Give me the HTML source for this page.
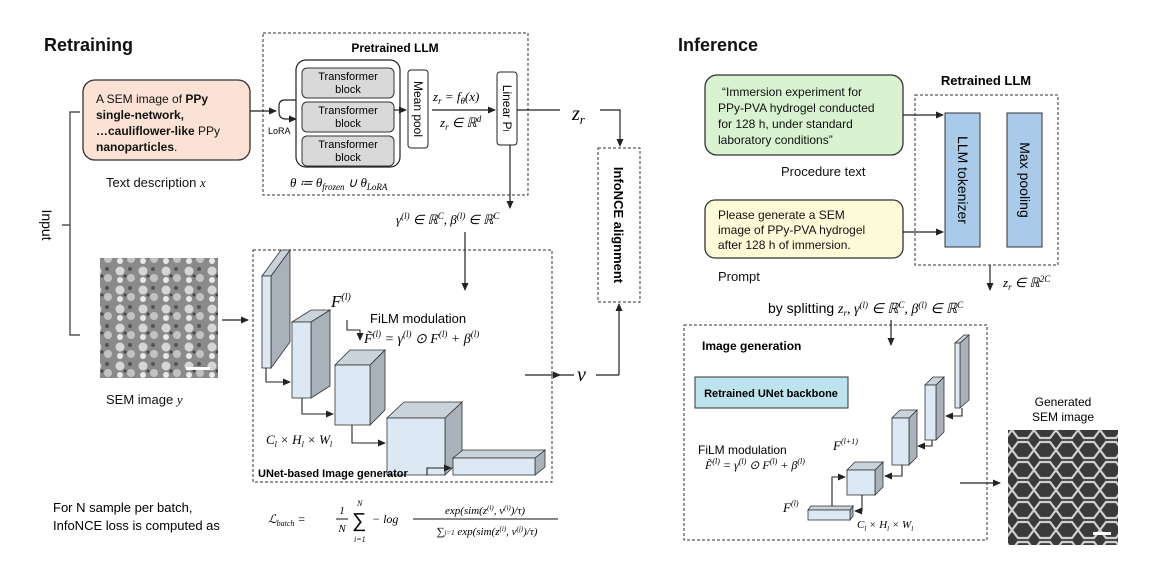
<!DOCTYPE html>
<html><head><meta charset="utf-8"><style>
body{margin:0;background:#fff}
svg{display:block;font-family:"Liberation Sans",sans-serif}
.m{font-family:"Liberation Serif",serif;font-style:italic}
</style></head><body>
<svg width="1152" height="576" viewBox="0 0 1152 576" xmlns="http://www.w3.org/2000/svg">
<defs>
<marker id="a" markerWidth="8" markerHeight="8" refX="7" refY="4" orient="auto" markerUnits="userSpaceOnUse"><path d="M0,0.5 L8,4 L0,7.5z" fill="#222"/></marker>
<pattern id="sem" width="23" height="19" patternUnits="userSpaceOnUse"><rect width="23" height="19" fill="#8a8a8a"/><circle cx="5" cy="5" r="4.5" fill="#d6d6d6"/><circle cx="16" cy="12" r="4" fill="#c2c2c2"/><circle cx="15" cy="3" r="2" fill="#555"/><circle cx="5" cy="14" r="3" fill="#e8e8e8"/><circle cx="10" cy="10" r="1.5" fill="#444"/></pattern>
<pattern id="net" width="22" height="20" patternUnits="userSpaceOnUse"><rect width="22" height="20" fill="#3a3a3a"/><path d="M0,10 L6,2 L16,2 L22,10 L16,18 L6,18z" fill="none" stroke="#cfcfcf" stroke-width="2.2"/></pattern>
</defs>
<g fill="#111">
<text x="44" y="51" font-size="18" font-weight="bold">Retraining</text>
<text x="678" y="51" font-size="18" font-weight="bold">Inference</text>
</g>
<rect x="83" y="80" width="167" height="80" rx="12" fill="#fbe2d4" stroke="#333" stroke-width="1.3"/>
<g font-size="12" fill="#111">
<text x="96" y="103">A SEM image of <tspan font-weight="bold">PPy</tspan></text>
<text x="96" y="119" font-weight="bold">single-network,</text>
<text x="96" y="135"><tspan font-weight="bold">…cauliflower-like</tspan> PPy</text>
<text x="96" y="151"><tspan font-weight="bold">nanoparticles</tspan>.</text>
<text x="106" y="187" font-size="13">Text description <tspan class="m">x</tspan></text>
<text x="106" y="404" font-size="13">SEM image <tspan class="m">y</tspan></text>
</g>
<path d="M80,112 L70,112 L70,335 L80,335 M70,225 L62,225" fill="none" stroke="#333" stroke-width="1.2"/>
<text x="0" y="0" font-size="14" transform="translate(42,225) rotate(90)" text-anchor="middle">Input</text>
<rect x="100" y="258" width="118" height="120" fill="url(#sem)"/>
<rect x="186" y="367" width="24" height="3" fill="#fff"/>
<line x1="222" y1="320" x2="248" y2="320" stroke="#222" stroke-width="1.2" marker-end="url(#a)"/>
<rect x="263" y="33" width="265" height="162" fill="none" stroke="#333" stroke-dasharray="3,2"/>
<text x="395" y="52" font-size="12" font-weight="bold" text-anchor="middle">Pretrained LLM</text>
<line x1="250" y1="111" x2="276" y2="111" stroke="#222" stroke-width="1.2" marker-end="url(#a)"/>
<path d="M296,100 L285,100 Q279,100 279,106 L279,112 Q279,119 286,119 L296,119" fill="none" stroke="#222" stroke-width="1.2" marker-end="url(#a)"/>
<text x="268" y="134" font-size="9">LoRA</text>
<rect x="296" y="60" width="104" height="107" rx="10" fill="#fff" stroke="#222" stroke-width="1.2"/>
<g font-size="11" text-anchor="middle">
<rect x="302" y="68" width="92" height="30" rx="5" fill="#d9d9d9" stroke="#333"/><text x="348" y="80">Transformer</text><text x="348" y="93">block</text>
<rect x="302" y="102" width="92" height="30" rx="5" fill="#d9d9d9" stroke="#333"/><text x="348" y="114">Transformer</text><text x="348" y="127">block</text>
<rect x="302" y="136" width="92" height="30" rx="5" fill="#d9d9d9" stroke="#333"/><text x="348" y="148">Transformer</text><text x="348" y="161">block</text>
</g>
<text x="290" y="187" class="m" font-size="13">θ ≔ θ<tspan font-size="9" dy="3">frozen</tspan><tspan dy="-3"> ∪ θ</tspan><tspan font-size="9" dy="3">LoRA</tspan></text>
<line x1="394" y1="110" x2="406" y2="110" stroke="#222" stroke-width="1.2" marker-end="url(#a)"/>
<rect x="408" y="70" width="20" height="78" rx="3" fill="#fff" stroke="#222"/>
<text transform="translate(414,109) rotate(90)" font-size="12" text-anchor="middle">Mean pool</text>
<text x="433" y="101" class="m" font-size="13">z<tspan font-size="9" dy="3">r</tspan><tspan dy="-3"> = f</tspan><tspan font-size="9" dy="3">θ</tspan><tspan dy="-3">(x)</tspan></text>
<line x1="432" y1="110" x2="495" y2="110" stroke="#222" stroke-width="1.2" marker-end="url(#a)"/>
<text x="440" y="127" class="m" font-size="13">z<tspan font-size="9" dy="3">r</tspan><tspan dy="-3"> ∈ ℝ</tspan><tspan font-size="9" dy="-5">d</tspan></text>
<rect x="497" y="72" width="20" height="73" rx="3" fill="#fff" stroke="#222"/>
<text transform="translate(503,108) rotate(90)" font-size="12" text-anchor="middle">Linear P<tspan font-size="8">l</tspan></text>
<line x1="517" y1="110" x2="560" y2="110" stroke="#222" stroke-width="1.2"/>
<text x="572" y="120" class="m" font-size="20">z<tspan font-size="13" dy="4">r</tspan></text>
<path d="M600,110 L620,110 L620,146" fill="none" stroke="#222" stroke-width="1.2" marker-end="url(#a)"/>
<line x1="510" y1="145" x2="510" y2="208" stroke="#222" stroke-width="1.2" marker-end="url(#a)"/>
<text x="396" y="224" class="m" font-size="13">γ<tspan font-size="9" dy="-5">(l)</tspan><tspan dy="5"> ∈ ℝ</tspan><tspan font-size="9" dy="-5">C</tspan><tspan dy="5">, β</tspan><tspan font-size="9" dy="-5">(l)</tspan><tspan dy="5"> ∈ ℝ</tspan><tspan font-size="9" dy="-5">C</tspan></text>
<line x1="465" y1="232" x2="465" y2="290" stroke="#222" stroke-width="1.2" marker-end="url(#a)"/>
<rect x="598" y="148" width="42" height="154" fill="#fff" stroke="#333" stroke-dasharray="3,2"/>
<text transform="translate(614,225) rotate(90)" font-size="13" font-weight="bold" text-anchor="middle">InfoNCE alignment</text>
<path d="M560,375 L619,375" stroke="#222" stroke-width="1.2"/>
<line x1="619" y1="375" x2="619" y2="304" stroke="#222" stroke-width="1.2" marker-end="url(#a)"/>
<line x1="525" y1="375" x2="560" y2="375" stroke="#222" stroke-width="1.2" marker-end="url(#a)"/>
<rect x="574" y="364" width="22" height="20" fill="#fff"/>
<text x="577" y="381" class="m" font-size="20">v</text>
<rect x="253" y="250" width="299" height="232" fill="none" stroke="#333" stroke-dasharray="3,2"/>
<g stroke="#333" stroke-width="0.8">
<polygon points="271,276 290,250 290,342 271,368" fill="#a9b2bb"/><polygon points="262,276 271,276 290,250 281,250" fill="#c8d3dc"/><rect x="262" y="276" width="9" height="92" fill="#dce8f4"/>
<polygon points="311,322 330,310 330,386 311,398" fill="#a9b2bb"/><polygon points="292,322 311,322 330,310 311,310" fill="#c8d3dc"/><rect x="292" y="322" width="19" height="76" fill="#dce8f4"/>
<polygon points="370,365 385,350 385,410 370,425" fill="#a9b2bb"/><polygon points="335,365 370,365 385,350 350,350" fill="#c8d3dc"/><rect x="335" y="365" width="35" height="60" fill="#dce8f4"/>
<polygon points="445,418 462,402 462,459 445,475" fill="#a9b2bb"/><polygon points="387,418 445,418 462,402 404,402" fill="#c8d3dc"/><rect x="387" y="418" width="58" height="57" fill="#dce8f4"/>
<polygon points="535,458 545,450 545,467 535,475" fill="#a9b2bb"/><polygon points="453,458 535,458 545,450 463,450" fill="#c8d3dc"/><rect x="453" y="458" width="82" height="17" fill="#dce8f4"/>
</g>
<g fill="none" stroke="#222" stroke-width="1.1">
<path d="M266,368 L266,382 L290,382" marker-end="url(#a)"/>
<path d="M302,398 L302,414 L333,414" marker-end="url(#a)"/>
<path d="M352,425 L352,443 L385,443" marker-end="url(#a)"/>
<path d="M427,475 L427,468 L451,468" marker-end="url(#a)"/>
<path d="M347,320 L347,330 L360,330 L360,340" marker-end="url(#a)"/>
</g>
<text x="331" y="307" class="m" font-size="17">F<tspan font-size="10" dy="-7">(l)</tspan></text>
<text x="370" y="323" font-size="13">FiLM modulation</text>
<text x="364" y="343" class="m" font-size="14">F̃<tspan font-size="9" dy="-6">(l)</tspan><tspan dy="6"> = γ</tspan><tspan font-size="9" dy="-6">(l)</tspan><tspan dy="6"> ⊙ F</tspan><tspan font-size="9" dy="-6">(l)</tspan><tspan dy="6"> +  β</tspan><tspan font-size="9" dy="-6">(l)</tspan></text>
<text x="266" y="444" class="m" font-size="13">C<tspan font-size="8" dy="3">l</tspan><tspan dy="-3"> × H</tspan><tspan font-size="8" dy="3">l</tspan><tspan dy="-3"> × W</tspan><tspan font-size="8" dy="3">l</tspan></text>
<text x="258" y="477" font-size="11" font-weight="bold">UNet-based Image generator</text>
<text x="53" y="512" font-size="13">For N sample per batch,</text>
<text x="53" y="530" font-size="13">InfoNCE loss is computed as</text>
<text x="268" y="523" class="m" font-size="12">ℒ<tspan font-size="8" dy="3">batch</tspan><tspan dy="-3"> = </tspan></text>
<text x="342" y="514" class="m" font-size="11" text-anchor="middle">1</text><line x1="336" y1="519" x2="348" y2="519" stroke="#111"/><text x="342" y="532" class="m" font-size="11" text-anchor="middle">N</text>
<text x="352" y="527" font-size="20">∑</text><text x="357" y="506" class="m" font-size="8">N</text><text x="354" y="542" class="m" font-size="8">i=1</text>
<text x="372" y="523" font-size="12" class="m">− log</text>
<text x="485" y="514" class="m" font-size="11" text-anchor="middle">exp(sim(z<tspan font-size="7" dy="-4">(i)</tspan><tspan dy="4">, v</tspan><tspan font-size="7" dy="-4">(i)</tspan><tspan dy="4">)/τ)</tspan></text>
<line x1="413" y1="519" x2="558" y2="519" stroke="#111"/>
<text x="487" y="535" class="m" font-size="11" text-anchor="middle">∑<tspan font-size="7">j=1</tspan> exp(sim(z<tspan font-size="7" dy="-4">(i)</tspan><tspan dy="4">, v</tspan><tspan font-size="7" dy="-4">(j)</tspan><tspan dy="4">)/τ)</tspan></text>
<rect x="705" y="75" width="198" height="80" rx="12" fill="#d9f2d0" stroke="#333" stroke-width="1.3"/>
<g font-size="12" fill="#111">
<text x="722" y="96">“Immersion experiment for</text>
<text x="718" y="112">PPy-PVA hydrogel conducted</text>
<text x="718" y="128">for 128 h, under standard</text>
<text x="718" y="144">laboratory conditions”</text>
<text x="781" y="176" font-size="13">Procedure text</text>
</g>
<rect x="705" y="200" width="198" height="58" rx="10" fill="#fdfbd7" stroke="#333" stroke-width="1.3"/>
<g font-size="12" fill="#111">
<text x="718" y="219">Please generate a SEM</text>
<text x="718" y="234">image of PPy-PVA hydrogel</text>
<text x="718" y="249">after 128 h of immersion.</text>
<text x="718" y="281" font-size="13">Prompt</text>
</g>
<line x1="903" y1="115" x2="943" y2="115" stroke="#222" stroke-width="1.2" marker-end="url(#a)"/>
<line x1="903" y1="232" x2="943" y2="232" stroke="#222" stroke-width="1.2" marker-end="url(#a)"/>
<rect x="915" y="95" width="143" height="170" fill="none" stroke="#333" stroke-dasharray="3,2"/>
<text x="986" y="85" font-size="13" font-weight="bold" text-anchor="middle">Retrained LLM</text>
<rect x="945" y="113" width="35" height="134" fill="#a9cbe9" stroke="#333"/>
<rect x="1007" y="113" width="35" height="134" fill="#a9cbe9" stroke="#333"/>
<text transform="translate(958,180) rotate(90)" font-size="14" text-anchor="middle">LLM tokenizer</text>
<text transform="translate(1020,180) rotate(90)" font-size="14" text-anchor="middle">Max pooling</text>
<line x1="990" y1="265" x2="990" y2="290" stroke="#222" stroke-width="1.2" marker-end="url(#a)"/>
<text x="1003" y="287" class="m" font-size="13">z<tspan font-size="9" dy="3">r</tspan><tspan dy="-3"> ∈ ℝ</tspan><tspan font-size="9" dy="-5">2C</tspan></text>
<text x="768" y="313" font-size="14">by splitting <tspan class="m">z<tspan font-size="9" dy="3">r</tspan><tspan dy="-3">, γ</tspan><tspan font-size="9" dy="-5">(l)</tspan><tspan dy="5"> ∈ ℝ</tspan><tspan font-size="9" dy="-5">C</tspan><tspan dy="5">, β</tspan><tspan font-size="9" dy="-5">(l)</tspan><tspan dy="5"> ∈ ℝ</tspan><tspan font-size="9" dy="-5">C</tspan></tspan></text>
<line x1="891" y1="320" x2="891" y2="345" stroke="#222" stroke-width="1.2" marker-end="url(#a)"/>
<rect x="684" y="325" width="303" height="215" fill="none" stroke="#333" stroke-dasharray="3,2"/>
<text x="702" y="350" font-size="12" font-weight="bold">Image generation</text>
<rect x="695" y="377" width="153" height="31" fill="#bde3ef" stroke="#333"/>
<text x="771" y="397" font-size="11" font-weight="bold" text-anchor="middle">Retrained UNet backbone</text>
<g stroke="#333" stroke-width="0.8">
<polygon points="960,343 969,335 969,400 960,408" fill="#a9b2bb"/><polygon points="955,343 960,343 969,335 964,335" fill="#c8d3dc"/><rect x="955" y="343" width="5" height="65" fill="#dce8f4"/>
<polygon points="936,385 944,377 944,432 936,440" fill="#a9b2bb"/><polygon points="925,385 936,385 944,377 933,377" fill="#c8d3dc"/><rect x="925" y="385" width="11" height="55" fill="#dce8f4"/>
<polygon points="909,418 917,410 917,457 909,465" fill="#a9b2bb"/><polygon points="892,418 909,418 917,410 900,410" fill="#c8d3dc"/><rect x="892" y="418" width="17" height="47" fill="#dce8f4"/>
<polygon points="875,470 883,462 883,487 875,495" fill="#a9b2bb"/><polygon points="847,470 875,470 883,462 855,462" fill="#c8d3dc"/><rect x="847" y="470" width="28" height="25" fill="#dce8f4"/>
<polygon points="850,510 853,506 853,516 850,520" fill="#a9b2bb"/><polygon points="808,510 850,510 853,506 811,506" fill="#c8d3dc"/><rect x="808" y="510" width="42" height="10" fill="#dce8f4"/>
</g>
<g fill="none" stroke="#222" stroke-width="1.1">
<path d="M962,408 L962,416 L946,416" marker-end="url(#a)"/>
<path d="M932,440 L932,446 L918,446" marker-end="url(#a)"/>
<path d="M902,465 L902,476 L885,476" marker-end="url(#a)"/>
<path d="M862,495 L862,511 L855,511" marker-end="url(#a)"/>
<path d="M832,506 L832,477 L845,477" marker-end="url(#a)"/>
</g>
<text x="698" y="454" font-size="12">FiLM modulation</text>
<text x="705" y="469" class="m" font-size="12">F̃<tspan font-size="8" dy="-5">(l)</tspan><tspan dy="5"> = γ</tspan><tspan font-size="8" dy="-5">(l)</tspan><tspan dy="5"> ⊙ F</tspan><tspan font-size="8" dy="-5">(l)</tspan><tspan dy="5"> +  β</tspan><tspan font-size="8" dy="-5">(l)</tspan></text>
<text x="833" y="450" class="m" font-size="13">F<tspan font-size="8" dy="-6">(l+1)</tspan></text>
<text x="783" y="512" class="m" font-size="13">F<tspan font-size="8" dy="-6">(l)</tspan></text>
<text x="857" y="528" class="m" font-size="11">C<tspan font-size="7" dy="3">l</tspan><tspan dy="-3"> × H</tspan><tspan font-size="7" dy="3">l</tspan><tspan dy="-3"> × W</tspan><tspan font-size="7" dy="3">l</tspan></text>
<line x1="960" y1="483" x2="1000" y2="483" stroke="#222" stroke-width="1.2" marker-end="url(#a)"/>
<text x="1063" y="406" font-size="12" text-anchor="middle">Generated</text>
<text x="1063" y="421" font-size="12" text-anchor="middle">SEM image</text>
<rect x="1008" y="430" width="110" height="115" fill="url(#net)"/>
<rect x="1093" y="532" width="18" height="3" fill="#fff"/>
</svg>
</body></html>
